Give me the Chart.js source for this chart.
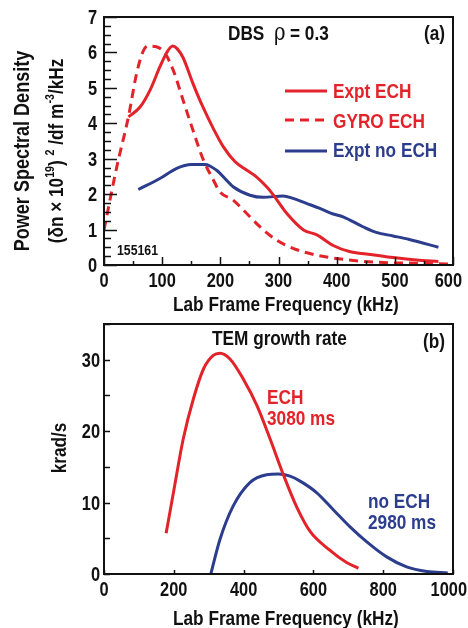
<!DOCTYPE html>
<html>
<head>
<meta charset="utf-8">
<script src="https://cdn.jsdelivr.net/npm/chart.js@4.4.1/dist/chart.umd.min.js"></script>
<style>
  html, body { margin: 0; padding: 0; background: #fff; }
  #wrap { position: relative; width: 468px; height: 628px; }
  canvas { position: absolute; left: 0; }
  #top { top: 0; }
  #bot { top: 318px; }
</style>
</head>
<body>
<div id="wrap">
  <canvas id="top" width="468" height="318"></canvas>
  <canvas id="bot" width="468" height="310"></canvas>
</div>
<script>
// panel (a): power spectral density, DBS rho = 0.3
const exptEchFreq = [42, 62, 79, 96, 108, 118, 126, 136, 153, 170, 188, 205, 225, 245, 262, 280, 291, 314, 343, 366, 394, 422, 451, 497, 537, 575];
const exptEchPsd  = [4.18, 4.46, 4.93, 5.59, 6.0, 6.18, 6.1, 5.85, 5.12, 4.46, 3.85, 3.34, 2.92, 2.68, 2.49, 2.2, 1.98, 1.46, 0.99, 0.85, 0.55, 0.38, 0.31, 0.21, 0.14, 0.1];
const gyroEchFreq = [0, 22, 42, 56, 68, 76, 90, 105, 119, 136, 153, 171, 188, 199, 222, 245, 268, 297, 325, 365, 422, 480, 537, 589, 600];
const gyroEchPsd  = [0.99, 2.77, 4.18, 5.4, 6.06, 6.18, 6.16, 5.97, 5.5, 4.65, 3.8, 2.96, 2.4, 2.07, 1.83, 1.46, 1.08, 0.7, 0.47, 0.28, 0.14, 0.07, 0.05, 0.03, 0.06];
const noEchFreq   = [59, 96, 125, 150, 174, 193, 222, 251, 274, 308, 325, 348, 371, 394, 411, 445, 468, 497, 525, 575];
const noEchPsd    = [2.13, 2.44, 2.73, 2.84, 2.84, 2.68, 2.21, 1.97, 1.91, 1.95, 1.88, 1.74, 1.6, 1.44, 1.36, 1.08, 0.92, 0.82, 0.72, 0.5];

// panel (b): TEM growth rate
const echGrowthFreq   = [178, 199, 227, 256, 285, 313, 332, 361, 399, 438, 476, 514, 552, 590, 645, 695, 729];
const echGrowth       = [5.7, 11.4, 18.9, 24.5, 28.7, 30.6, 30.9, 30.1, 27.3, 23.6, 18.9, 13.9, 9.4, 6.0, 3.4, 1.6, 0.8];
const noEchGrowthFreq = [306, 332, 370, 418, 466, 499, 533, 562, 609, 657, 705, 753, 810, 867, 925, 985];
const noEchGrowth     = [0, 4.8, 9.5, 12.8, 13.9, 14.0, 13.7, 13.0, 11.4, 9.0, 6.6, 4.5, 2.4, 1.0, 0.35, 0.15];

const RED = '#e2232a';
const BLUE = '#2c3d8e';
const INK = '#111';
const FONT = "'Liberation Sans', Arial, sans-serif";
const SX = 0.82; // horizontal squeeze, the figure uses a narrow bold face

function toXY(xs, ys) {
    return xs.map((x, i) => ({ x: x, y: ys[i] }));
}

function partFont(p, size, weight) {
    const s = p.sup ? Math.round(size * 0.62) : size;
    return `${p.weight || weight || 'bold'} ${s}px ${p.family || FONT}`;
}

// draws a (narrow) text with optional superscript parts, optionally rotated
function drawText(ctx, t) {
    const parts = t.parts || [{ t: t.text }];
    ctx.save();
    ctx.translate(t.x, t.y);
    if (t.rotate) ctx.rotate(-Math.PI / 2);
    ctx.scale(SX, 1);
    ctx.textBaseline = 'alphabetic';
    ctx.textAlign = 'left';
    let w = 0;
    parts.forEach(p => { ctx.font = partFont(p, t.size, t.weight); w += ctx.measureText(p.t).width; });
    let cx = 0;
    if (t.align === 'center') cx = -w / 2;
    if (t.align === 'right') cx = -w;
    parts.forEach(p => {
        ctx.font = partFont(p, t.size, t.weight);
        ctx.fillStyle = t.color || INK;
        ctx.fillText(p.t, cx, p.sup ? -t.size * 0.42 : 0);
        cx += ctx.measureText(p.t).width;
    });
    ctx.restore();
    return w * SX;
}

function textWidth(ctx, text, size) {
    ctx.save();
    ctx.font = `bold ${size}px ${FONT}`;
    const w = ctx.measureText(text).width * SX;
    ctx.restore();
    return w;
}

function isMultiple(v, step) {
    return Math.abs(v / step - Math.round(v / step)) < 1e-6;
}

// frame, inward tick marks, tick labels, free texts and the inline legend
const panelDecor = {
    id: 'panelDecor',
    afterDraw(chart, args, opts) {
        const ctx = chart.ctx;
        const a = chart.chartArea;
        const xs = chart.scales.x, ys = chart.scales.y;
        ctx.save();
        ctx.strokeStyle = INK;
        ctx.lineWidth = 1.5;
        ctx.beginPath();
        for (let v = ys.min; v <= ys.max + 1e-9; v += opts.yMinor) {
            const py = Math.round(ys.getPixelForValue(v)) + 0.5;
            const len = isMultiple(v, opts.yMajor) ? opts.yMajorLen : opts.yMinorLen;
            ctx.moveTo(a.left, py);
            ctx.lineTo(a.left + len, py);
        }
        for (let v = xs.min; v <= xs.max + 1e-9; v += opts.xMinor) {
            const px = Math.round(xs.getPixelForValue(v)) + 0.5;
            const len = isMultiple(v, opts.xMajor) ? opts.xMajorLen : opts.xMinorLen;
            ctx.moveTo(px, a.bottom);
            ctx.lineTo(px, a.bottom - len);
        }
        ctx.stroke();
        ctx.lineWidth = 2;
        ctx.strokeRect(a.left, a.top, a.right - a.left, a.bottom - a.top);

        // tick labels from the scales' own ticks
        ys.ticks.forEach(t => {
            drawText(ctx, { x: a.left - opts.yPad, y: ys.getPixelForValue(t.value) + 7, text: String(t.value), size: 20, align: 'right' });
        });
        xs.ticks.forEach(t => {
            const label = String(t.value);
            const w = textWidth(ctx, label, 20);
            let cx = xs.getPixelForValue(t.value);
            if (cx + w / 2 > opts.xLabelMax) cx = opts.xLabelMax - w / 2;
            drawText(ctx, { x: cx, y: a.bottom + 21.5, text: label, size: 20, align: 'center' });
        });

        (opts.texts || []).forEach(t => drawText(ctx, t));

        (opts.legend || []).forEach(item => {
            const ds = chart.data.datasets[item.ds];
            ctx.save();
            ctx.strokeStyle = ds.borderColor;
            ctx.lineWidth = ds.borderWidth;
            ctx.setLineDash(ds.borderDash || []);
            ctx.beginPath();
            ctx.moveTo(item.x1, item.y);
            ctx.lineTo(item.x2, item.y);
            ctx.stroke();
            ctx.restore();
            drawText(ctx, { x: item.tx, y: item.ty, text: ds.label, size: 21, color: ds.borderColor });
        });
        ctx.restore();
    }
};

function makeChart(id, datasets, cfg) {
    return new Chart(document.getElementById(id), {
        type: 'line',
        data: { datasets: datasets },
        options: {
            responsive: false,
            animation: false,
            devicePixelRatio: 1,
            layout: { padding: { left: 0, right: 15, top: cfg.top, bottom: 0 } },
            elements: {
                point: { radius: 0 },
                line: { cubicInterpolationMode: 'monotone', fill: false }
            },
            plugins: {
                legend: { display: false },
                tooltip: { enabled: false },
                panelDecor: cfg.decor
            },
            scales: {
                x: {
                    type: 'linear', min: 0, max: cfg.xMax,
                    grid: { display: false }, border: { display: false },
                    ticks: { stepSize: cfg.xStep, display: false, autoSkip: false },
                    afterFit: s => { s.height = cfg.xHeight; s.paddingLeft = 0; s.paddingRight = 0; }
                },
                y: {
                    type: 'linear', min: 0, max: cfg.yMax,
                    grid: { display: false }, border: { display: false },
                    ticks: { stepSize: cfg.yStep, display: false, autoSkip: false },
                    afterBuildTicks: s => { s.ticks = s.ticks.filter(t => isMultiple(t.value, cfg.yStep)); },
                    afterFit: s => { s.width = 104; s.paddingTop = 0; s.paddingBottom = 0; }
                }
            }
        },
        plugins: [panelDecor]
    });
}

// Panel (a)
makeChart('top', [
    { label: 'Expt ECH', data: toXY(exptEchFreq, exptEchPsd), borderColor: RED, borderWidth: 3 },
    { label: 'GYRO ECH', data: toXY(gyroEchFreq, gyroEchPsd), borderColor: RED, borderWidth: 3, borderDash: [9, 6] },
    { label: 'Expt no ECH', data: toXY(noEchFreq, noEchPsd), borderColor: BLUE, borderWidth: 3 }
], {
    top: 17, xMax: 600, xStep: 100, yMax: 7, yStep: 1, xHeight: 53,
    decor: {
        yPad: 7, xLabelMax: 462,
        yMajor: 1, yMinor: 0.25, yMajorLen: 13, yMinorLen: 7,
        xMajor: 100, xMinor: 50, xMajorLen: 8, xMinorLen: 4,
        texts: [
            { x: 228, y: 40, text: 'DBS', size: 21 },
            { x: 274, y: 40, parts: [{ t: 'ρ', family: "'DejaVu Serif', serif", weight: 'normal' }], size: 24 },
            { x: 290, y: 40, text: '= 0.3', size: 21 },
            { x: 424, y: 40, text: '(a)', size: 21 },
            { x: 117, y: 255, text: '155161', size: 15 },
            { x: 173, y: 311, text: 'Lab Frame Frequency (kHz)', size: 21 },
            { x: 29, y: 151, rotate: true, align: 'center', text: 'Power Spectral Density', size: 22 },
            { x: 63, y: 151, rotate: true, align: 'center', size: 21, parts: [
                { t: '(δn × 10' }, { t: '19', sup: true }, { t: ') ' }, { t: '2', sup: true },
                { t: ' /df m' }, { t: '-3', sup: true }, { t: '/kHz' }
            ] }
        ],
        legend: [
            { ds: 0, x1: 285, x2: 327, y: 91, tx: 333, ty: 98 },
            { ds: 1, x1: 285, x2: 327, y: 120, tx: 333, ty: 128 },
            { ds: 2, x1: 285, x2: 327, y: 151, tx: 333, ty: 157 }
        ]
    }
});

// Panel (b)
makeChart('bot', [
    { label: 'ECH 3080 ms', data: toXY(echGrowthFreq, echGrowth), borderColor: RED, borderWidth: 3 },
    { label: 'no ECH 2980 ms', data: toXY(noEchGrowthFreq, noEchGrowth), borderColor: BLUE, borderWidth: 3 }
], {
    top: 6, xMax: 1000, xStep: 200, yMax: 35, yStep: 10, xHeight: 54,
    decor: {
        yPad: 4, xLabelMax: 467,
        yMajor: 5, yMinor: 5, yMajorLen: 6, yMinorLen: 6,
        xMajor: 200, xMinor: 200, xMajorLen: 4, xMinorLen: 4,
        texts: [
            { x: 212, y: 27, text: 'TEM growth rate', size: 21 },
            { x: 423, y: 30, text: '(b)', size: 21 },
            { x: 267, y: 86, text: 'ECH', size: 21, color: RED },
            { x: 267, y: 107, text: '3080 ms', size: 21, color: RED },
            { x: 368, y: 190, text: 'no ECH', size: 21, color: BLUE },
            { x: 368, y: 211, text: '2980 ms', size: 21, color: BLUE },
            { x: 173, y: 307, text: 'Lab Frame Frequency (kHz)', size: 21 },
            { x: 66, y: 130, rotate: true, align: 'center', text: 'krad/s', size: 21 }
        ]
    }
});
</script>
</body>
</html>
